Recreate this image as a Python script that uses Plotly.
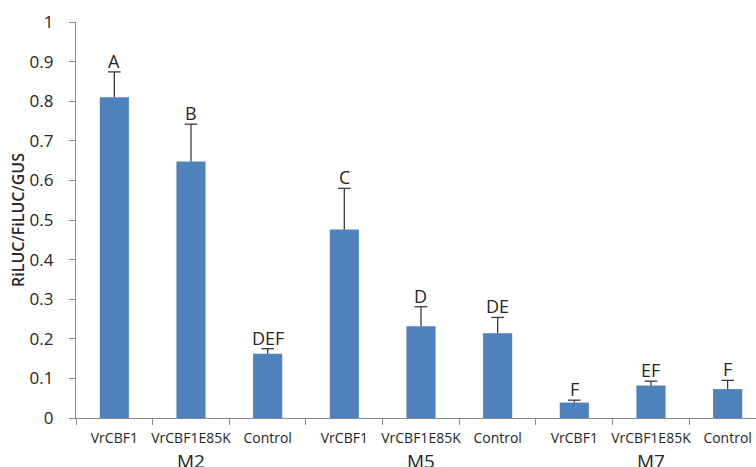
import plotly.graph_objects as go

# Promoter groups and constructs
groups = ["M2", "M5", "M7"]
constructs = ["VrCBF1", "VrCBF1E85K", "Control"]

# Relative luciferase activity (RiLUC/FiLUC/GUS) per group, in construct order
means = [0.81, 0.648, 0.162,
         0.476, 0.232, 0.214,
         0.039, 0.082, 0.073]
errors = [0.064, 0.094, 0.013,
          0.104, 0.049, 0.040,
          0.006, 0.011, 0.022]
letters = ["A", "B", "DEF",
           "C", "D", "DE",
           "F", "EF", "F"]

tick_labels = [c for _ in groups for c in constructs]
xpos = list(range(len(tick_labels)))
tops = [m + e for m, e in zip(means, errors)]

FONT = "Open Sans"
TEXT = "#262626"
AXIS_GRAY = "#8c8c8c"
ERR = "#3a3a3a"

fig = go.Figure()
# Bars with an upward-only whisker (no cap at the bar top)
fig.add_trace(go.Bar(
    x=xpos,
    y=means,
    width=0.38,
    marker=dict(color="#4F81BD", line=dict(width=0)),
    error_y=dict(type="data", array=errors, arrayminus=[0] * len(errors),
                 symmetric=False, color=ERR, thickness=1.3, width=0),
    showlegend=False,
))
# Cap at the end of each whisker
fig.add_trace(go.Scatter(
    x=xpos, y=tops, mode="markers",
    marker=dict(symbol="line-ew", size=9, line=dict(color=ERR, width=1.3)),
    showlegend=False, hoverinfo="skip",
))

annotations = []
for x, top, t in zip(xpos, tops, letters):
    annotations.append(dict(
        x=x, y=top, xref="x", yref="y", text=t, showarrow=False,
        yanchor="bottom", yshift=-3,
        font=dict(family=FONT, size=18, color=TEXT),
    ))

# Group labels centred under each set of three constructs
for gi, g in enumerate(groups):
    annotations.append(dict(
        x=gi * 3 + 1, y=0, xref="x", yref="paper", text=g, showarrow=False,
        yanchor="middle", yshift=-43,
        font=dict(family=FONT, size=19, color=TEXT),
    ))

fig.update_layout(
    width=756, height=467,
    margin=dict(l=76, r=0, t=22, b=49),
    paper_bgcolor="white", plot_bgcolor="white",
    font=dict(family=FONT, color=TEXT),
    annotations=annotations,
    xaxis=dict(
        range=[-0.5, 8.37],
        tickmode="array", tickvals=xpos, ticktext=tick_labels,
        ticks="", ticklen=0,
        tickfont=dict(family=FONT, size=14, color=TEXT),
        ticklabelstandoff=7,
        showline=True, linecolor=AXIS_GRAY, linewidth=1.3,
        showgrid=False, zeroline=False,
        minor=dict(tick0=-0.5, dtick=1, ticks="outside", ticklen=6,
                   tickcolor=AXIS_GRAY, tickwidth=1, showgrid=False),
    ),
    yaxis=dict(
        range=[0, 1], dtick=0.1, tick0=0,
        tickformat="~g",
        ticks="outside", ticklen=6, tickcolor=AXIS_GRAY, tickwidth=1,
        tickfont=dict(family=FONT, size=17, color=TEXT),
        ticklabelstandoff=12,
        showline=True, linecolor=AXIS_GRAY, linewidth=1.3,
        showgrid=False, zeroline=False,
        title=dict(text="RiLUC/FiLUC/GUS",
                   font=dict(family=FONT, size=16, weight=600, color=TEXT),
                   standoff=0),
    ),
)

fig.write_html("out.html")
